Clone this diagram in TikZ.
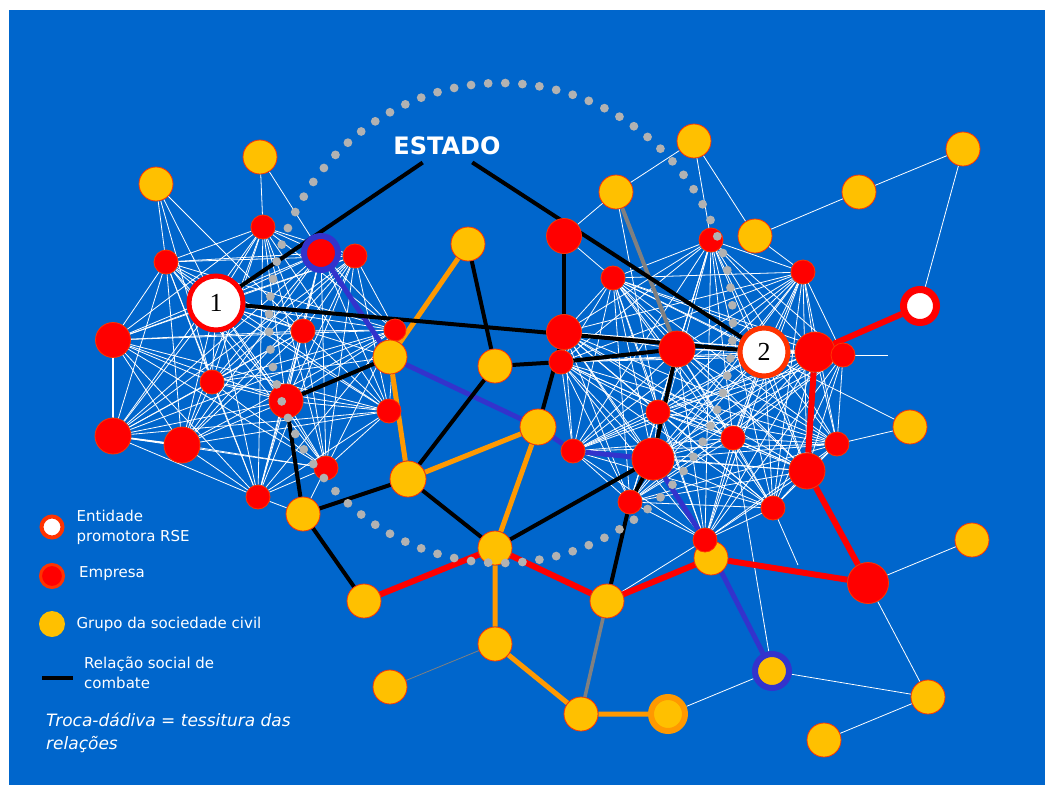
\documentclass[tikz,border=0pt]{standalone}
\usepackage{fontspec}
\setmainfont{DejaVu Sans}
\newfontfamily\numfont{Liberation Serif}
\usetikzlibrary{positioning}
\definecolor{fundo}{RGB}{0,102,204}
\definecolor{vermelho}{RGB}{255,0,0}
\definecolor{borda}{RGB}{255,51,0}
\definecolor{amarelo}{RGB}{255,192,0}
\definecolor{laranja}{RGB}{255,153,0}
\definecolor{azul}{RGB}{51,51,204}
\definecolor{pontos}{RGB}{178,178,178}
\definecolor{cinza}{RGB}{128,128,128}
\pgfdeclarelayer{background}
\pgfdeclarelayer{foreground}
\pgfsetlayers{background,main,foreground}
\tikzset{
  emp/.style={circle, inner sep=0pt, fill=vermelho, draw=borda, line width=0.8pt, minimum size=#1},
  emp/.default=24pt,
  grp/.style={circle, inner sep=0pt, fill=amarelo, draw=borda, line width=0.8pt, minimum size=#1},
  grp/.default=34pt,
  ent/.style={circle, inner sep=0pt, fill=white, draw=vermelho, line width=5pt, minimum size=#1, font=\numfont\fontsize{26}{26}\selectfont},
  ent/.default=48pt,
  rel/.style={white, line width=0.8pt},
  combate/.style={black, line width=4pt},
  troca/.style={vermelho, line width=6pt},
  grupo/.style={laranja, line width=5pt},
  elo/.style={azul, line width=5pt},
  legenda/.style={text=white, inner sep=0pt, align=left, font=\fontsize{15}{20}\selectfont},
}
\newcommand{\redeL}{la,lb,lc,ld,n1,le,lf,lg,lh,li,lj,lk,ll,lm,ln}
\newcommand{\redeR}{rb,rc,rd,re,rf,rg,n2,rh,ri,rj,rk,rl,rm,rn,ro,rp,rq,rr}

\begin{document}
\begin{tikzpicture}[x=1pt, y=-1pt]
  \useasboundingbox (0,0) rectangle (1045,785);

  \node[text=white, font=\bfseries\fontsize{24}{24}\selectfont] (estado) at (447,146) {ESTADO};

  \node[grp] (ya) at (260,157) {};
  \node[grp] (yb) at (156,184) {};
  \node[emp] (la) at (263,227) {};
  \node[emp] (lb) at (166,262) {};
  \node[emp=34pt, draw=azul, line width=6pt] (lc) at (321,253) {};
  \node[emp] (ld) at (355,256) {};
  \node[ent=54pt] (n1) at (216,303) {1};
  \node[emp=35pt] (le) at (113,340) {};
  \node[emp] (lf) at (303,331) {};
  \node[emp=22pt] (lg) at (395,330) {};
  \node[grp] (yc) at (390,357) {};
  \node[emp] (lh) at (212,382) {};
  \node[emp=34pt] (li) at (286,401) {};
  \node[emp] (lj) at (389,411) {};
  \node[emp=36pt] (lk) at (113,436) {};
  \node[emp=36pt] (ll) at (182,445) {};
  \node[emp] (lm) at (326,468) {};
  \node[emp] (ln) at (258,497) {};
  \node[grp] (yd) at (303,514) {};
  \node[grp=36pt] (ye) at (408,479) {};

  \node[grp] (yf) at (468,244) {};
  \node[grp] (yg) at (495,366) {};
  \node[grp=36pt] (yh) at (538,427) {};
  \node[grp] (yi) at (495,548) {};
  \node[grp] (yj) at (364,601) {};
  \node[grp] (yk) at (607,601) {};
  \node[grp] (yl) at (495,644) {};
  \node[grp] (ym) at (390,687) {};
  \node[grp] (yn) at (581,714) {};
  \node[grp, draw=laranja, line width=6pt] (yo) at (668,714) {};

  \node[grp] (yp) at (616,192) {};
  \node[grp] (yq) at (694,141) {};
  \node[emp=35pt] (ra) at (564,236) {};
  \node[emp] (rb) at (711,240) {};
  \node[grp] (yr) at (755,236) {};
  \node[emp] (rc) at (613,278) {};
  \node[emp] (rd) at (803,272) {};
  \node[emp=35pt] (re) at (564,332) {};
  \node[emp] (rf) at (561,362) {};
  \node[emp=36pt] (rg) at (677,349) {};
  \node[ent, draw=borda] (n2) at (764,352) {2};
  \node[emp=40pt] (rh) at (815,352) {};
  \node[emp] (ri) at (843,355) {};
  \node[emp] (rj) at (658,412) {};
  \node[emp] (rk) at (573,451) {};
  \node[emp=42pt] (rl) at (653,459) {};
  \node[emp] (rm) at (733,438) {};
  \node[emp] (rn) at (837,444) {};
  \node[emp=36pt] (ro) at (807,471) {};
  \node[emp] (rp) at (630,502) {};
  \node[emp] (rq) at (773,508) {};
  \node[grp] (ys) at (711,558) {};
  \node[emp] (rr) at (705,540) {};
  \node[emp=41pt] (rs) at (868,583) {};
  \node[grp] (yt) at (910,427) {};
  \node[grp] (yu) at (859,192) {};
  \node[grp] (yv) at (963,149) {};
  \node[ent=33pt, line width=7pt] (n3) at (920,306) {};
  \node[grp] (yw) at (972,540) {};
  \node[grp=34pt, draw=azul, line width=6pt] (yx) at (772,671) {};
  \node[grp] (yy) at (928,697) {};
  \node[grp] (yz) at (824,740) {};
  \coordinate (riend) at (888,355);
  \coordinate (rqend) at (798,565);

  \begin{pgfonlayer}{background}
    \fill[fundo] (9,10) rectangle (1045,785);
    \foreach \a [count=\i] in \redeL {
      \foreach \b [count=\j] in \redeL {
        \ifnum\j>\i \draw[rel] (\a) -- (\b); \fi
      }
    }
    \foreach \a [count=\i] in \redeR {
      \foreach \b [count=\j] in \redeR {
        \ifnum\j>\i \draw[rel] (\a) -- (\b); \fi
      }
    }
    \foreach \a/\b in {ya/la, ya/lc, yb/lb, yb/n1, yb/lf, yb/lh, yc/n1, yc/lh, yd/ln, yd/lm,
                       ra/rc, yp/ra, yp/rj, yq/yp, yq/yr, yq/rb, yr/rd, yr/yu, yu/yv, yv/n3,
                       yt/rc, yt/rn, yw/rs, rs/yy, yx/yy, yx/yo, yy/yz, yx/rm, yk/rr,
                       ri/riend, rq/rqend}
      \draw[rel] (\a) -- (\b);
    \draw[rel, line width=1.6pt] (le) -- (lk) -- (ll);
    \draw[cinza, line width=0.8pt] (yl) -- (ym);
    \draw[cinza, line width=4pt] (yp) -- (rg);
    \draw[cinza, line width=3.5pt] (yk) -- (yn);
    \draw[elo] (lc) -- (yc) -- (yh) -- (rk) -- (rl) -- (rr) -- (yx);
    \draw[grupo] (yf) -- (yc) -- (ye) -- (yh) -- (yi) -- (yl) -- (yn) -- (yo);
    \draw[troca] (yj) -- (yi) -- (yk) -- (ys) -- (rs) -- (ro) -- (rh) -- (n3);
    \draw[combate, shorten <=7pt] (estado) -- (n1);
    \draw[combate, shorten <=7pt] (estado) -- (n2);
    \foreach \a/\b in {n1/n2, ra/re, yg/rf, rf/rg, re/yh, rg/rl, rl/rp, rp/yk, yi/rl,
                       yg/ye, ye/yi, yd/ye, yd/yj, li/yd, li/yc, yf/yg}
      \draw[combate] (\a) -- (\b);
  \end{pgfonlayer}

  \begin{pgfonlayer}{foreground}
    \foreach \k in {0,...,84}
      \fill[pontos] ({501+232*cos(4.23529*\k)},{323+240*sin(4.23529*\k)}) circle (4.4pt);
  \end{pgfonlayer}

  \node[ent=21pt, line width=4pt, draw=borda] (lgent) at (52,527) {};
  \node[legenda, right=12pt of lgent] (txent) {Entidade\\promotora RSE};
  \node[emp=23pt, line width=3pt] (lgemp) at (52,576) {};
  \node[legenda, right=14pt of lgemp, yshift=2pt] (txemp) {Empresa};
  \node[grp=26pt, draw=none] (lggrp) at (52,624) {};
  \node[legenda, right=11pt of lggrp] (txgrp) {Grupo da sociedade civil};
  \coordinate (lglinA) at (42,678);
  \coordinate (lglinB) at (73,678);
  \draw[combate] (lglinA) -- (lglinB);
  \node[legenda, right=11pt of lglinB, yshift=5pt] (txlin) {Relação social de\\combate};
  \node[legenda, anchor=west, font=\itshape\fontsize{17}{23}\selectfont] (txtroca) at (46,733) {Troca-dádiva = tessitura das\\relações};
\end{tikzpicture}
\end{document}
